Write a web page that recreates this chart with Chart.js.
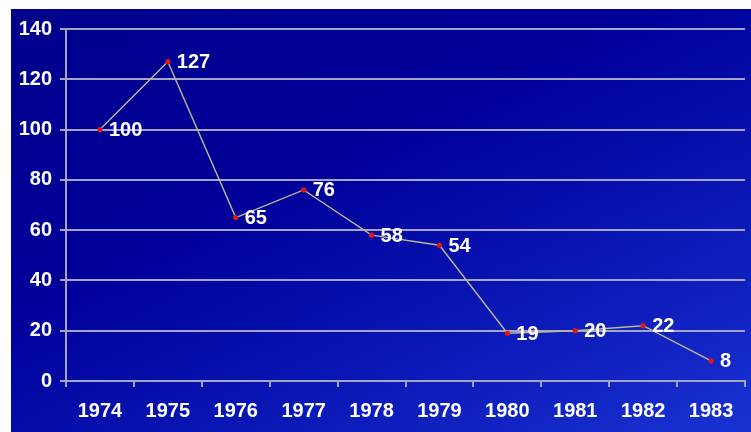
<!DOCTYPE html>
<html>
<head>
<meta charset="utf-8">
<script src="https://cdn.jsdelivr.net/npm/chart.js@4/dist/chart.umd.min.js"></script>
<style>
  html, body { margin: 0; padding: 0; background: #ffffff; }
  #wrap {
    position: absolute; left: 11px; top: 9px; width: 740px; height: 423px;
    background: linear-gradient(155deg, #00008c 0%, #00009a 40%, #0a18b6 70%, #1a32d2 100%);
  }
</style>
</head>
<body>
<div id="wrap"><canvas id="chartLinea" width="740" height="423"></canvas></div>
<script>
// datos
const years = ['1974', '1975', '1976', '1977', '1978', '1979', '1980', '1981', '1982', '1983'];
const values = [100, 127, 65, 76, 58, 54, 19, 20, 22, 8];
const yTicks = [0, 20, 40, 60, 80, 100, 120, 140];

const gridColor = '#a4a4c4';
const fuente = "'Liberation Sans', Arial, sans-serif";

// etiquetas de valores a la derecha de cada punto
const etiquetas = {
    id: 'etiquetas',
    afterDatasetsDraw(chart) {
        const ctx = chart.ctx;
        const meta = chart.getDatasetMeta(0);
        ctx.save();
        ctx.font = "bold 20px " + fuente;
        ctx.fillStyle = '#ffffff';
        ctx.textAlign = 'left';
        ctx.textBaseline = 'middle';
        meta.data.forEach((pt, i) => {
            ctx.fillText(String(values[i]), pt.x + 9, pt.y + 1);
        });
        ctx.restore();
    }
};

new Chart(document.getElementById('chartLinea'), {
    type: 'line',
    data: {
        labels: years,
        datasets: [{
            data: values,
            borderColor: '#bcb896',
            borderWidth: 1.4,
            pointBackgroundColor: '#e01818',
            pointBorderWidth: 0,
            pointRadius: 2.6,
            tension: 0,
            fill: false
        }]
    },
    options: {
        responsive: false,
        animation: false,
        layout: { padding: { top: 20, right: 6, left: 0, bottom: 0 } },
        plugins: {
            legend: { display: false },
            tooltip: { enabled: false }
        },
        scales: {
            x: {
                offset: true,
                afterFit: (s) => { s.height = 51; },
                grid: {
                    offset: true,
                    color: (c) => (c.index === 0 || c.index === years.length) ? gridColor : 'transparent',
                    tickColor: gridColor,
                    lineWidth: 2,
                    tickLength: 6
                },
                border: { display: true, color: gridColor, width: 2 },
                ticks: {
                    color: '#ffffff',
                    padding: 12,
                    maxRotation: 0,
                    font: { family: fuente, size: 20, weight: 'bold' }
                }
            },
            y: {
                min: 0,
                max: 140,
                afterFit: (s) => { s.width = 55; },
                afterBuildTicks: (s) => { s.ticks = yTicks.map(v => ({ value: v })); },
                grid: {
                    color: gridColor,
                    lineWidth: 2,
                    tickLength: 6
                },
                border: { display: true, color: gridColor, width: 2 },
                ticks: {
                    color: '#ffffff',
                    padding: 8,
                    font: { family: fuente, size: 20, weight: 'bold' }
                }
            }
        }
    },
    plugins: [etiquetas]
});
</script>
</body>
</html>
